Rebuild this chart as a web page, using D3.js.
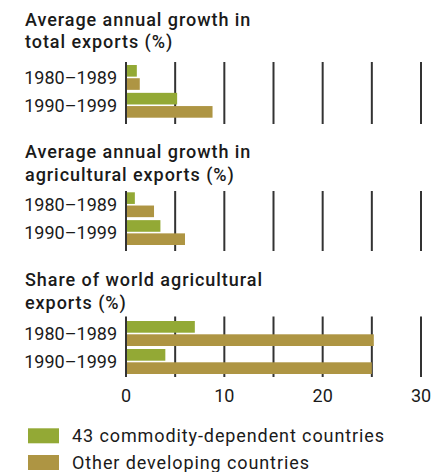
<!DOCTYPE html>
<meta charset="utf-8">
<style>
  body { margin: 0; background: #fff; }
  text { font-family: Roboto, "Noto Sans", sans-serif; fill: #1a1a1a; }
  .title { font-size: 18px; font-weight: 500; letter-spacing: 0.95px; }
  .label { font-size: 18px; }
  .legend-text { font-size: 18px; letter-spacing: 0.9px; }
</style>
<body>
<script src="https://d3js.org/d3.v7.min.js"></script>
<script>
  // data
  var periods = ["1980–1989", "1990–1999"];
  var seriesNames = ["43 commodity-dependent countries", "Other developing countries"];
  var colors = ["#93a935", "#ae9543"];

  var totalCommodity = [1.1, 5.2];
  var totalOther = [1.4, 8.8];
  var agriCommodity = [0.9, 3.5];
  var agriOther = [2.85, 6.0];
  var shareCommodity = [7.0, 4.0];
  var shareOther = [25.2, 25.0];

  var gridTicks = [0, 5, 10, 15, 20, 25, 30];
  var tickLabels = [0, 10, 20, 30];

  // panel layout
  var panels = [
    { title: ["Average annual growth in", "total exports (%)"], values: [totalCommodity, totalOther],
      titleY: 25.7, grid: [62, 124], bars: [65, 117.7] },
    { title: ["Average annual growth in", "agricultural exports (%)"], values: [agriCommodity, agriOther],
      titleY: 158.3, grid: [191, 251], bars: [192.3, 245] },
    { title: ["Share of world agricultural", "exports (%)"], values: [shareCommodity, shareOther],
      titleY: 286, grid: [316.5, 377], bars: [321, 374] }
  ];

  var svg = d3.select("body").append("svg")
    .attr("width", 445)
    .attr("height", 472);

  var x = d3.scaleLinear().domain([0, 30]).range([126, 421]);

  panels.forEach(function (p) {
    var g = svg.append("g");

    // title
    g.append("text")
      .attr("class", "title")
      .selectAll("tspan")
      .data(p.title)
      .enter().append("tspan")
      .attr("x", 25)
      .attr("y", function (d, i) { return p.titleY + i * 22.6; })
      .text(function (d) { return d; });

    // gridlines
    g.selectAll(".grid")
      .data(gridTicks)
      .enter().append("line")
      .attr("x1", function (d) { return x(d); })
      .attr("x2", function (d) { return x(d); })
      .attr("y1", p.grid[0])
      .attr("y2", p.grid[1])
      .attr("stroke", "#333")
      .attr("stroke-width", 2);

    var y = d3.scaleBand().domain(periods).range(p.bars).paddingInner(0.107);
    var sub = d3.scaleBand().domain(seriesNames).range([0, y.bandwidth()]).paddingInner(0.12);

    // bars
    periods.forEach(function (per, i) {
      seriesNames.forEach(function (s, j) {
        g.append("rect")
          .attr("x", x(0) + 1)
          .attr("y", y(per) + sub(s))
          .attr("width", x(p.values[j][i]) - x(0) - 1)
          .attr("height", sub.bandwidth())
          .attr("fill", colors[j]);
      });
    });

    // category labels
    g.selectAll(".cat")
      .data(periods)
      .enter().append("text")
      .attr("class", "label")
      .attr("x", 117)
      .attr("y", function (d) { return y(d) + y.bandwidth() / 2; })
      .attr("dy", "0.35em")
      .attr("text-anchor", "end")
      .text(function (d) { return d; });
  });

  // x tick labels
  svg.selectAll(".tick")
    .data(tickLabels)
    .enter().append("text")
    .attr("class", "label")
    .attr("x", function (d) { return x(d); })
    .attr("y", 401.7)
    .attr("text-anchor", "middle")
    .text(function (d) { return d; });

  // legend
  var legend = svg.selectAll(".legend")
    .data(seriesNames)
    .enter().append("g")
    .attr("transform", function (d, i) { return "translate(28," + (428.3 + i * 26.7) + ")"; });

  legend.append("rect")
    .attr("width", 31)
    .attr("height", 15)
    .attr("fill", function (d, i) { return colors[i]; });

  legend.append("text")
    .attr("class", "legend-text")
    .attr("x", 44)
    .attr("y", 13.5)
    .text(function (d) { return d; });
</script>
</body>
